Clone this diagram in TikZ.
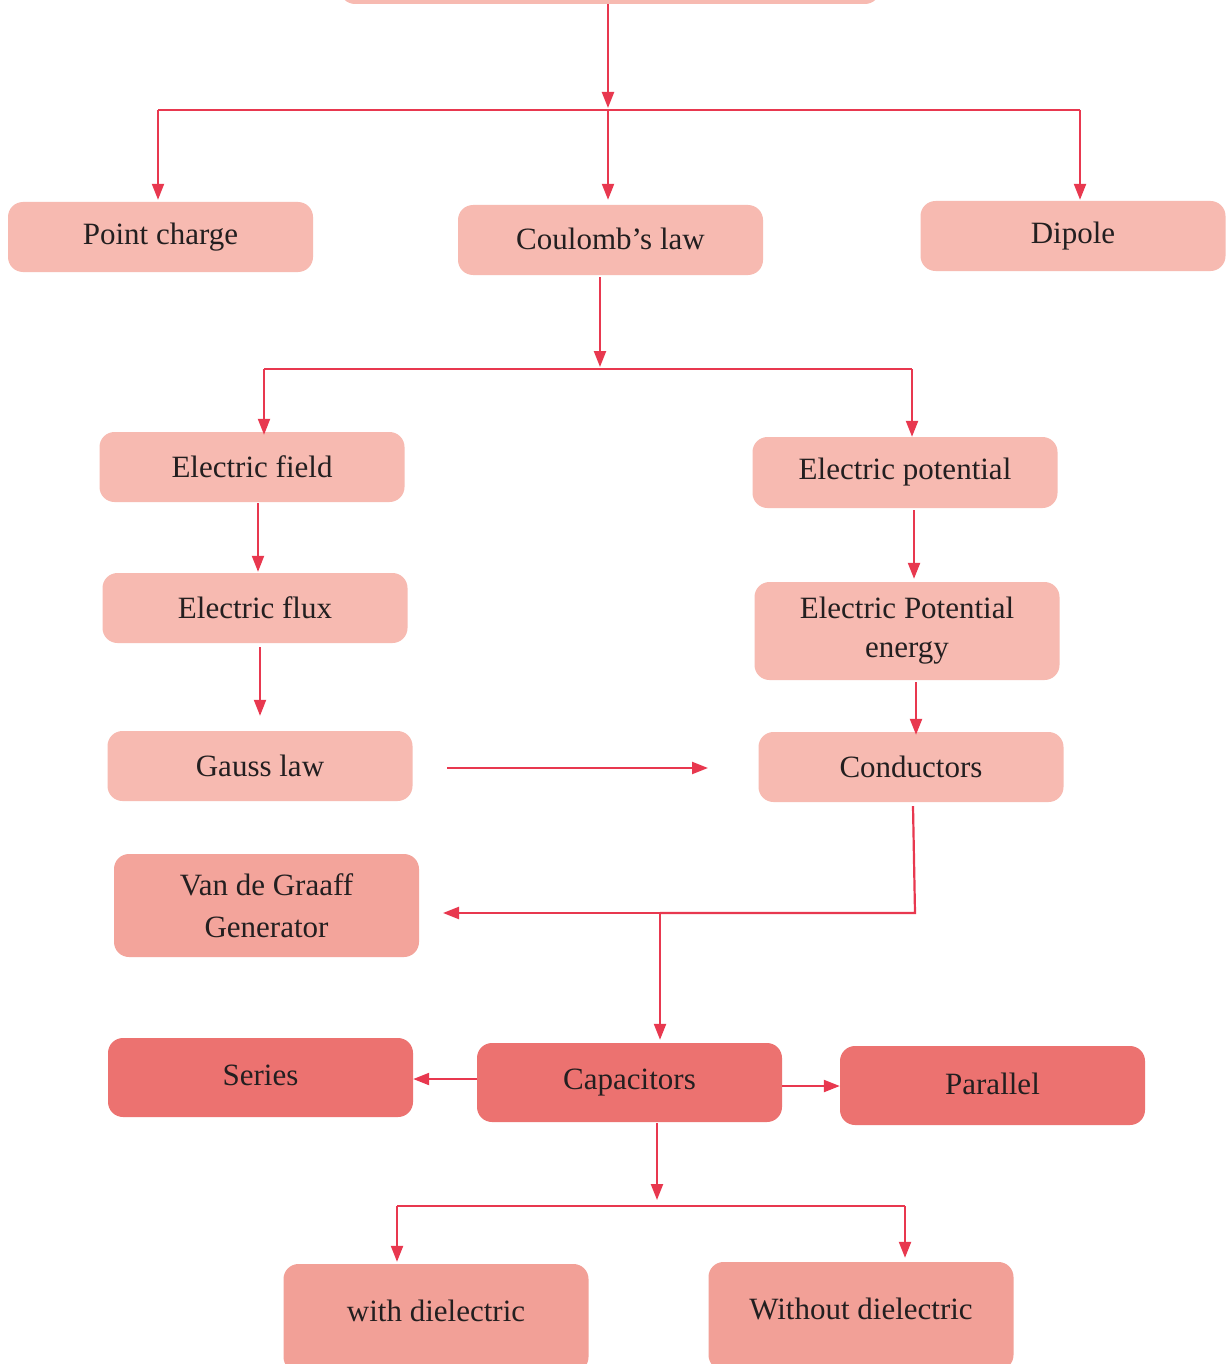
\documentclass[tikz,border=0pt]{standalone}
\usepackage{fontspec}
\setmainfont{Liberation Serif}
\usetikzlibrary{arrows.meta}
\definecolor{boxA}{HTML}{F7BAB1}
\definecolor{boxB}{HTML}{F3A49B}
\definecolor{boxC}{HTML}{EC7270}
\definecolor{boxD}{HTML}{F2A097}
\definecolor{lineR}{HTML}{E8384F}
\definecolor{txt}{HTML}{231F20}
\tikzset{
  box/.style={rectangle, rounded corners=15pt, draw=none, fill=boxA, text=txt,
    minimum width=305pt, minimum height=70pt, align=center, inner sep=0pt,
    font=\fontsize{31}{39}\selectfont},
  conn/.style={draw=lineR, line width=2.2pt},
  arr/.style={conn, -{Triangle[length=16pt,width=12pt]}},
}
\begin{document}
\begin{tikzpicture}[x=1pt,y=-1pt]
\useasboundingbox (0,0) rectangle (1228,1364);
\fill[white] (0,0) rectangle (1228,1364);
\clip (0,0) rectangle (1228,1364);
% nodes
\node[box, minimum width=540pt, minimum height=80pt] (top) at (610,-36) {};
\node[box] (pc) at (160.5,237) {Point charge};
\node[box] (cl) at (610.5,240) {\raisebox{2pt}{Coulomb’s law}};
\node[box] (dp) at (1073,236) {\raisebox{3pt}{Dipole}};
\node[box] (ef) at (252,467) {Electric field};
\node[box, minimum height=71pt] (ep) at (905,472.5) {Electric potential};
\node[box] (fl) at (255,608) {Electric flux};
\node[box, minimum height=98pt] (epe) at (907,631) {Electric Potential\\energy};
\node[box] (gl) at (260,766) {Gauss law};
\node[box] (cd) at (911,767) {Conductors};
\node[box, fill=boxB, minimum height=103pt] (vg) at (266.5,905.5) {Van de Graaff\\[3pt]Generator};
\node[box, fill=boxC, minimum height=79pt] (se) at (260.5,1077.5) {\raisebox{4pt}{Series}};
\node[box, fill=boxC, minimum height=79pt] (ca) at (629.5,1082.5) {Capacitors};
\node[box, fill=boxC, minimum height=79pt] (pa) at (992.5,1085.5) {\raisebox{3pt}{Parallel}};
\node[box, fill=boxD, minimum height=108pt] (wd) at (436,1318) {\raisebox{14pt}{with dielectric}};
\node[box, fill=boxD, minimum height=108pt] (wo) at (861,1316) {\raisebox{14pt}{Without dielectric}};
% junction coordinates
\coordinate (j1) at (608,110);
\coordinate (j1l) at (158,110);
\coordinate (j1r) at (1080,110);
\coordinate (j2) at (600,369);
\coordinate (j2l) at (264,369);
\coordinate (j2r) at (912,369);
\coordinate (ga) at (447,768);
\coordinate (gb) at (708,768);
\coordinate (c1) at (913,806);
\coordinate (c2) at (915,913);
\coordinate (c3) at (660,913);
\coordinate (c4) at (443,913);
\coordinate (j3) at (657,1206);
\coordinate (j3l) at (397,1206);
\coordinate (j3r) at (905,1206);
% connectors: top level
\draw[arr] (top.south -| j1) -- ([yshift=2pt]j1);
\draw[conn] (j1l) -- (j1r);
\draw[arr] (j1l) -- ([yshift=2pt]pc.north -| j1l);
\draw[arr] (j1) -- ([yshift=5pt]cl.north -| j1);
\draw[arr] (j1r) -- ([yshift=1pt]dp.north -| j1r);
% Coulomb's law level
\draw[arr] ([yshift=-2pt]cl.south -| j2) -- ([yshift=2pt]j2);
\draw[conn] (j2l) -- (j2r);
\draw[arr] (j2l) -- ([yshift=-3pt]ef.north -| j2l);
\draw[arr] (j2r) -- (ep.north -| j2r);
% left column
\draw[arr] ([yshift=-1pt]ef.south -| 258,0) -- ([yshift=1pt]fl.north -| 258,0);
\draw[arr] ([yshift=-4pt]fl.south -| 260,0) -- ([yshift=15pt]gl.north -| 260,0);
% right column
\draw[arr] ([yshift=-2pt]ep.south -| 914,0) -- ([yshift=3pt]epe.north -| 914,0);
\draw[arr] ([yshift=-2pt]epe.south -| 916,0) -- ([yshift=-3pt]cd.north -| 916,0);
% Gauss law to conductors
\draw[arr] (ga) -- (gb);
% conductors down
\draw[conn] ([yshift=-4pt]cd.south -| c1) -- (c2) -- (c3);
\draw[arr] (c3) -- (c4);
\draw[arr] (c3) -- ([yshift=3pt]ca.north -| c3);
% capacitors sides
\draw[arr] (ca.west |- 0,1079) -- (se.east |- 0,1079);
\draw[arr] (ca.east |- 0,1086) -- (pa.west |- 0,1086);
% capacitors down
\draw[arr] ([yshift=-1pt]ca.south -| j3) -- ([yshift=6pt]j3);
\draw[conn] (j3l) -- (j3r);
\draw[arr] (j3l) -- ([yshift=2pt]wd.north -| j3l);
\draw[arr] (j3r) -- ([yshift=4pt]wo.north -| j3r);
\end{tikzpicture}
\end{document}
